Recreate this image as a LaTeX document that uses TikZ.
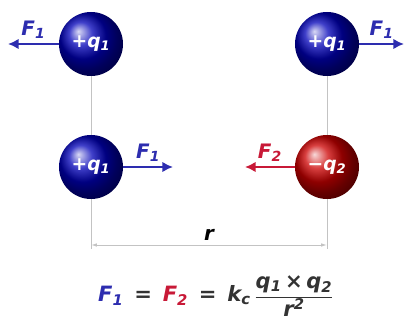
\documentclass[tikz,border=0pt]{standalone}
\usepackage{fontspec}
\setmainfont{DejaVu Sans}
\usetikzlibrary{arrows.meta}
\definecolor{qblue}{RGB}{45,45,175}
\definecolor{qred}{RGB}{200,25,55}
\definecolor{dimgray}{RGB}{195,195,195}
\begin{document}
\begin{tikzpicture}[x=0.03cm,y=-0.03cm,
    poscharge/.style={circle,minimum size=1.92cm,inner sep=0pt,shading=ball,
      ball color=blue!72!black,text=white,font=\bfseries\itshape\fontsize{16}{16}\selectfont},
    negcharge/.style={poscharge,ball color=red!80!black},
    force/.style={-{Latex[length=9pt,width=9pt]},line width=2.4pt},
    flabel/.style={font=\bfseries\itshape\fontsize{17}{17}\selectfont},
    dimline/.style={dimgray,line width=0.8pt}]
  \useasboundingbox (0,0) rectangle (407,320);
  % charges
  \node[poscharge] (qa) at (91,44) {+q\textsubscript{1}};
  \node[poscharge] (qb) at (327,44) {+q\textsubscript{1}};
  \node[poscharge] (qc) at (91,167) {+q\textsubscript{1}};
  \node[negcharge] (qd) at (327,167) {−q\textsubscript{2}};
  % distance
  \coordinate (ra) at (91,249);
  \coordinate (rb) at (327,249);
  \draw[dimline] (qa) -- (qc) -- (ra);
  \draw[dimline] (qb) -- (qd) -- (rb);
  \draw[dimline,{Latex[length=5pt,width=3pt]}-{Latex[length=5pt,width=3pt]}] ([yshift=0.12cm]ra) -- node[above,black,flabel]{r} ([yshift=0.12cm]rb);
  % forces
  \coordinate (fa) at (8,44);
  \coordinate (fb) at (404,44);
  \coordinate (fc) at (173,167);
  \coordinate (fd) at (245,167);
  \draw[force,qblue] (qa) -- node[above,flabel]{F\textsubscript{1}} (fa);
  \draw[force,qblue] (qb) -- node[above,flabel]{F\textsubscript{1}} (fb);
  \draw[force,qblue] (qc) -- node[above,flabel]{F\textsubscript{1}} (fc);
  \draw[force,qred] (qd) -- node[above,flabel]{F\textsubscript{2}} (fd);
  % law
  \node[anchor=west,text=black!80,font=\bfseries\itshape\fontsize{18}{18}\selectfont] (law) at (94,296)
    {\textcolor{qblue}{F\textsubscript{1}}\, = \,\textcolor{qred}{F\textsubscript{2}}\, = \,k\textsubscript{c}\,$\displaystyle\frac{\mbox{q\textsubscript{1}\,×\,q\textsubscript{2}}}{\mbox{r\textsuperscript{2}}}$};
\end{tikzpicture}
\end{document}
